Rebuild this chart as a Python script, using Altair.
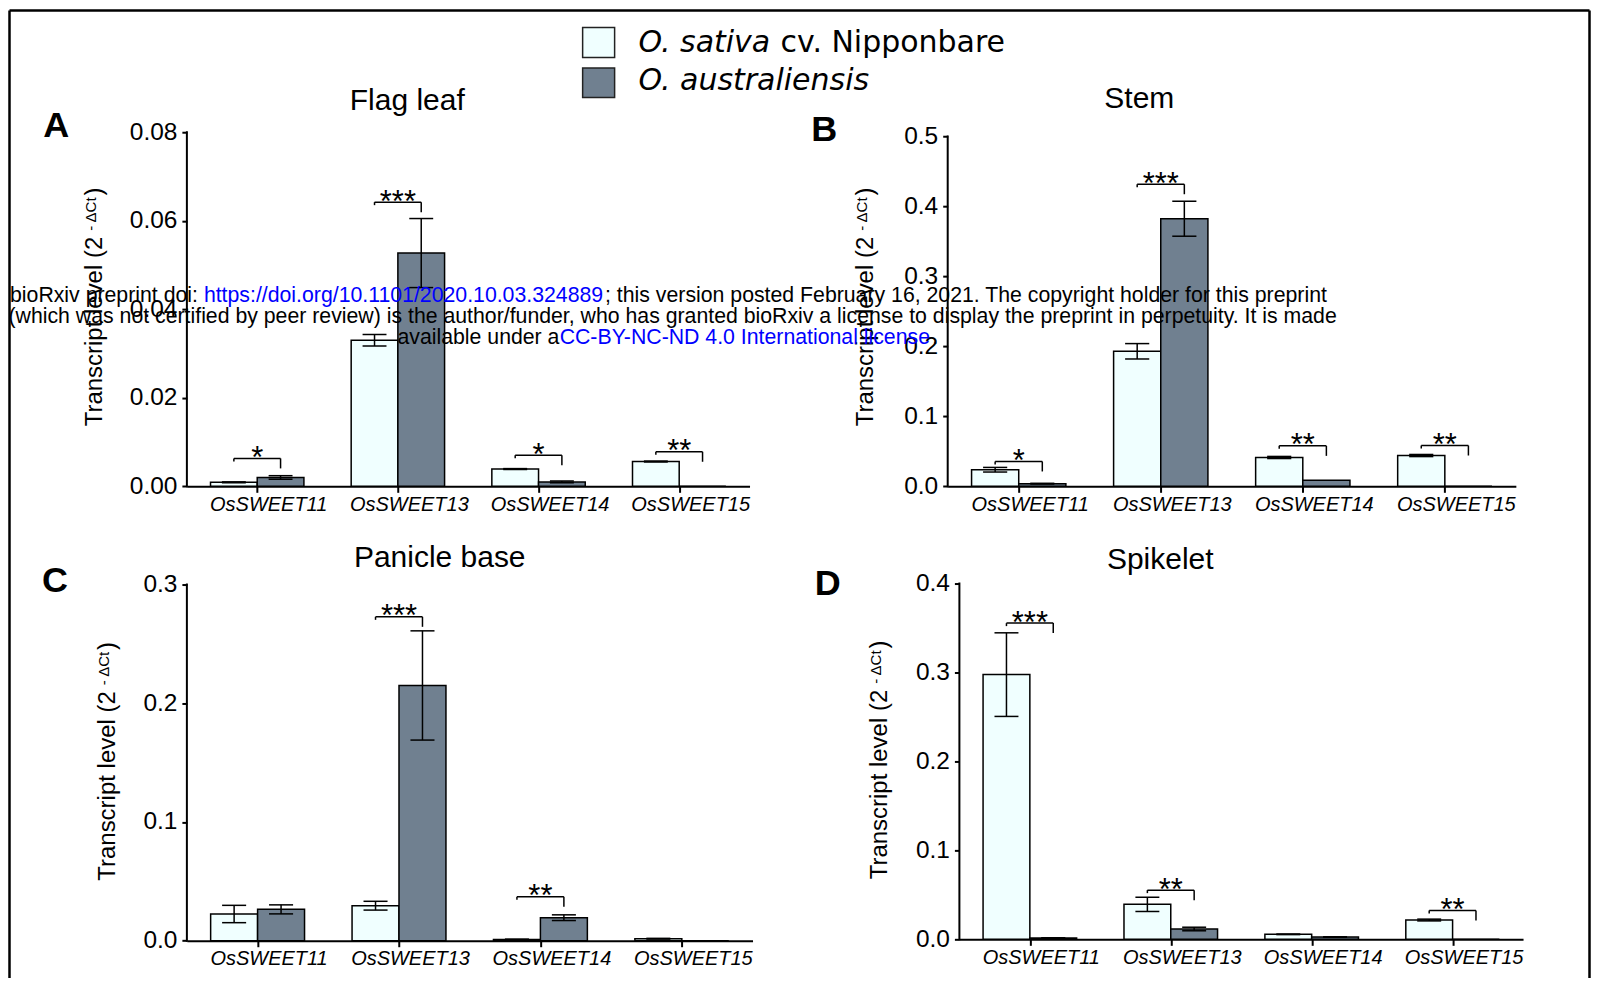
import altair as alt
import pandas as pd

genes = ["OsSWEET11", "OsSWEET13", "OsSWEET14", "OsSWEET15"]
species = ["O. sativa cv. Nipponbare", "O. australiensis"]
fills = ["#F0FFFF", "#708090"]

# Panel A - Flag leaf
flag_sat = [0.0009, 0.0330, 0.0039, 0.0056]
flag_sat_err = [0.0001, 0.0013, 0.0001, 0.0001]
flag_aus = [0.0020, 0.0527, 0.0010, 0.0]
flag_aus_err = [0.0004, 0.0078, 0.0002, 0.0]
flag_sig_level = [0.0063, 0.0642, 0.0070, 0.0078]
flag_sig = ["*", "***", "*", "**"]
flag_ticks = [0.0, 0.02, 0.04, 0.06, 0.08]

# Panel B - Stem
stem_sat = [0.0237, 0.193, 0.0412, 0.0440]
stem_sat_err = [0.0033, 0.011, 0.0015, 0.0015]
stem_aus = [0.0038, 0.3825, 0.0085, 0.0]
stem_aus_err = [0.0005, 0.025, 0.0, 0.0]
stem_sig_level = [0.0355, 0.4318, 0.0578, 0.0583]
stem_sig = ["*", "***", "**", "**"]
stem_ticks = [0.0, 0.1, 0.2, 0.3, 0.4, 0.5]

# Panel C - Panicle base
pan_sat = [0.0225, 0.0295, 0.0011, 0.0017]
pan_sat_err = [0.0073, 0.0037, 0.0002, 0.0003]
pan_aus = [0.0264, 0.215, 0.0194, 0.0]
pan_aus_err = [0.0038, 0.046, 0.0024, 0.0]
pan_sig_level = [None, 0.2728, 0.0370, None]
pan_sig = ["", "***", "**", ""]
pan_ticks = [0.0, 0.1, 0.2, 0.3]

# Panel D - Spikelet
spk_sat = [0.2976, 0.0393, 0.0056, 0.0217]
spk_sat_err = [0.047, 0.008, 0.0003, 0.001]
spk_aus = [0.0015, 0.0116, 0.0026, 0.0]
spk_aus_err = [0.0002, 0.002, 0.0002, 0.0]
spk_sig_level = [0.3555, 0.0553, None, 0.0325]
spk_sig = ["***", "**", "", "**"]
spk_ticks = [0.0, 0.1, 0.2, 0.3, 0.4]

HW = 0.166   # half bar width (in group units)
CW = 0.085   # half cap width
FONT = "Liberation Sans"
ONE = alt.InlineData(values=[{"o": 0}])


def T(text, x, y, size, font=FONT, color="black", align="center", baseline="alphabetic", **kw):
    return alt.Chart(ONE).mark_text(text=text, fontSize=size, font=font, color=color,
                                    align=align, baseline=baseline, **kw).encode(
        x=alt.value(x), y=alt.value(y))


def R(x1, y1, x2, y2, w=2.5, opacity=1.0):
    return alt.Chart(ONE).mark_rule(color="black", strokeWidth=w, opacity=opacity).encode(
        x=alt.value(x1), x2=alt.value(x2), y=alt.value(y1), y2=alt.value(y2))


def bars_df(sat, sat_err, aus, aus_err):
    rows = []
    for i, g in enumerate(genes):
        for side, sp, m, e in ((-1, species[0], sat[i], sat_err[i]), (1, species[1], aus[i], aus_err[i])):
            xc = i + 0.5 + side * HW
            rows.append(dict(gene=g, species=sp, mean=m, err=e, xc=xc, x0=xc - HW, x1=xc + HW,
                             c0=xc - CW, c1=xc + CW, lo=m - e, hi=m + e))
    return pd.DataFrame(rows)


def sig_df(levels, stars):
    rows = []
    for i, (lv, s) in enumerate(zip(levels, stars)):
        if lv is not None:
            rows.append(dict(gene=genes[i], level=lv, stars=s, gc=i + 0.5,
                             bl=i + 0.5 - HW, br=i + 0.5 + HW))
    return pd.DataFrame(rows)


label_expr = "[" + ",".join("'%s'" % g for g in genes) + "][floor(datum.value)]"


def panel(sat, sat_err, aus, aus_err, levels, stars, ticks, fmt, ymax, W, H, origin,
          title, title_pos, letter, letter_pos, ytitle_x, extra=()):
    ox, oy = origin
    df = bars_df(sat, sat_err, aus, aus_err)
    sdf = sig_df(levels, stars)
    xs = alt.Scale(domain=[0, 4], nice=False, zero=False)
    ys = alt.Scale(domain=[0, ymax], nice=False, zero=False)
    xa = alt.Axis(values=[0.5, 1.5, 2.5, 3.5], labelExpr=label_expr, title="", grid=False,
                  domainColor="black", domainWidth=2, tickColor="black", tickWidth=2, tickSize=6,
                  labelFont=FONT, labelFontSize=20, labelFontStyle="italic", labelColor="black",
                  labelPadding=2, labelOffset=11, labelOverlap=False, labelFlush=False)
    ya = alt.Axis(values=ticks, format=fmt, title="", grid=False, domain=False,
                  tickColor="black", tickWidth=2, tickSize=5, labelFont=FONT, labelFontSize=24.5,
                  labelColor="black", labelPadding=5, labelOverlap=False, labelFlush=False)

    def X(f):
        return alt.X(f, scale=xs, axis=xa)

    def Y(f):
        return alt.Y(f, scale=ys, axis=ya)

    bars = alt.Chart(df).mark_rect(stroke="black", strokeWidth=1.5).encode(
        x=X("x0:Q"), x2="x1:Q", y=Y("mean:Q"), y2=alt.datum(0),
        fill=alt.Fill("species:N", scale=alt.Scale(domain=species, range=fills), legend=None))
    ebase = alt.Chart(df).transform_filter("datum.err > 0")
    evert = ebase.mark_rule(color="black", strokeWidth=1.5).encode(x=X("xc:Q"), y=Y("lo:Q"), y2="hi:Q")
    ecap_lo = ebase.mark_rule(color="black", strokeWidth=1.5).encode(x=X("c0:Q"), x2="c1:Q", y=Y("lo:Q"))
    ecap_hi = ebase.mark_rule(color="black", strokeWidth=1.5).encode(x=X("c0:Q"), x2="c1:Q", y=Y("hi:Q"))

    sbase = alt.Chart(sdf)
    bh = sbase.mark_rule(color="black", strokeWidth=1.5).encode(x=X("bl:Q"), x2="br:Q", y=Y("level:Q"))
    bl = sbase.mark_rule(color="black", strokeWidth=1.5, y2Offset=3).encode(x=X("bl:Q"), y=Y("level:Q"), y2="level:Q")
    br = sbase.mark_rule(color="black", strokeWidth=1.5, y2Offset=10).encode(x=X("br:Q"), y=Y("level:Q"), y2="level:Q")
    st = sbase.mark_text(fontSize=31, font=FONT, dy=9.5, baseline="alphabetic", color="black").encode(
        x=X("gc:Q"), y=Y("level:Q"), text="stars:N")

    ydom = alt.Chart(ONE).mark_rule(color="black", strokeWidth=2, strokeCap="square").encode(
        x=alt.value(0), y=alt.Y(datum=0, scale=ys, axis=ya), y2=alt.datum(ticks[-1]))

    tt = T(title, title_pos[0] - ox, title_pos[1] - oy, 30)
    lt = T(letter, letter_pos[0] - ox, letter_pos[1] - oy, 36, fontWeight="bold")

    start = H - 60
    main_len = 7.946 * 24
    sup_start = start - main_len - 5
    par_start = sup_start - 2.279 * 15 - 1
    yt1 = T("Transcript level (2", ytitle_x, start, 24, align="left", angle=270)
    yt2 = T("- \u0394Ct", ytitle_x - 6, sup_start, 15, align="left", angle=270)
    yt3 = T(")", ytitle_x, par_start, 24, align="left", angle=270)

    layers = [bars, evert, ecap_lo, ecap_hi, bh, bl, br, st, ydom, tt, lt, yt1, yt2, yt3] + list(extra)
    return alt.layer(*layers).properties(width=W, height=H)


# ---- layout (page coordinates of plot areas) ----
A_o = (187, 131.7)
B_o = (948.3, 131.7)
C_o = (187, 583.3)
D_o = (960, 583.3)
A_W, A_H = 563, 354.3
B_W, B_H = 568.5, 354.3
C_W, C_H = 566, 357.4
D_W, D_H = 564, 356

# page-level extras placed in panel A (anchor, border)
ax, ay = A_o
border = [
    R(8 - ax, 8 - ay, 9 - ax, 8 - ay, w=0, opacity=0),
    R(9.5 - ax, 10 - ay, 1590.5 - ax, 10 - ay),
    R(9.5 - ax, 10 - ay, 9.5 - ax, 978 - ay),
    R(1590.5 - ax, 10 - ay, 1590.5 - ax, 978 - ay),
]

# legend + watermark placed in panel D (drawn last)
dx, dy = D_o
legend = [
    alt.Chart(ONE).mark_rect(fill=fills[0], stroke="#222222", strokeWidth=1.5).encode(
        x=alt.value(583 - dx), x2=alt.value(615 - dx), y=alt.value(27 - dy), y2=alt.value(57 - dy)),
    alt.Chart(ONE).mark_rect(fill=fills[1], stroke="#222222", strokeWidth=1.5).encode(
        x=alt.value(583 - dx), x2=alt.value(615 - dx), y=alt.value(67.5 - dy), y2=alt.value(97 - dy)),
    T("O. sativa", 639 - dx, 51 - dy, 30, font="DejaVu Sans", align="left", fontStyle="italic"),
    T("cv. Nipponbare", 781 - dx, 51 - dy, 30, font="DejaVu Sans", align="left"),
    T("O. australiensis", 639 - dx, 89 - dy, 30, font="DejaVu Sans", align="left", fontStyle="italic"),
]
WM = 21.3
BLUE = "#0000FF"
watermark = [
    T("bioRxiv preprint doi: ", 10 - dx, 301.7 - dy, WM, align="left"),
    T("https://doi.org/10.1101/2020.10.03.324889", 204 - dx, 301.7 - dy, WM, align="left", color=BLUE),
    T("; this version posted February 16, 2021. The copyright holder for this preprint",
      605.4 - dx, 301.7 - dy, WM, align="left"),
    T("(which was not certified by peer review) is the author/funder, who has granted bioRxiv a license to display the preprint in perpetuity. It is made",
      8.5 - dx, 322.7 - dy, WM, align="left"),
    T("available under a", 397.7 - dx, 343.7 - dy, WM, align="left"),
    T("CC-BY-NC-ND 4.0 International license", 560 - dx, 343.7 - dy, WM, align="left", color=BLUE),
    T(".", 932.8 - dx, 343.7 - dy, WM, align="left"),
]

pA = panel(flag_sat, flag_sat_err, flag_aus, flag_aus_err, flag_sig_level, flag_sig, flag_ticks, ".2f",
           0.08, A_W, A_H, A_o, "Flag leaf", (407.5, 109), "A", (56.3, 136.7), -84.5, extra=border)
pB = panel(stem_sat, stem_sat_err, stem_aus, stem_aus_err, stem_sig_level, stem_sig, stem_ticks, ".1f",
           0.5 + (136 - 131.7) / 700, B_W, B_H, B_o, "Stem", (1140, 107.3), "B", (824.7, 140), -75)
pC = panel(pan_sat, pan_sat_err, pan_aus, pan_aus_err, pan_sig_level, pan_sig, pan_ticks, ".1f",
           0.3 + 1 / 1188, C_W, C_H, C_o, "Panicle base", (440, 566.7), "C", (55, 591.7), -71.5)
pD = panel(spk_sat, spk_sat_err, spk_aus, spk_aus_err, spk_sig_level, spk_sig, spk_ticks, ".1f",
           0.4, D_W, D_H, D_o, "Spikelet", (1161, 568.3), "D", (828.3, 595), -72.7,
           extra=legend + watermark)

# nested concat rows have no height of their own under flush bounds, so the
# vertical spacing is the full offset between the two rows' plot tops
row1 = alt.hconcat(pA, pB, spacing=B_o[0] - A_o[0] - A_W, bounds="flush")
row2 = alt.hconcat(pC, pD, spacing=D_o[0] - C_o[0] - C_W, bounds="flush")
chart = alt.vconcat(row1, row2, spacing=C_o[1] - A_o[1], bounds="flush").properties(
    padding=0, background="white").configure_view(strokeWidth=0)

chart.save("out.html", embed_options={"renderer": "svg", "actions": False})
